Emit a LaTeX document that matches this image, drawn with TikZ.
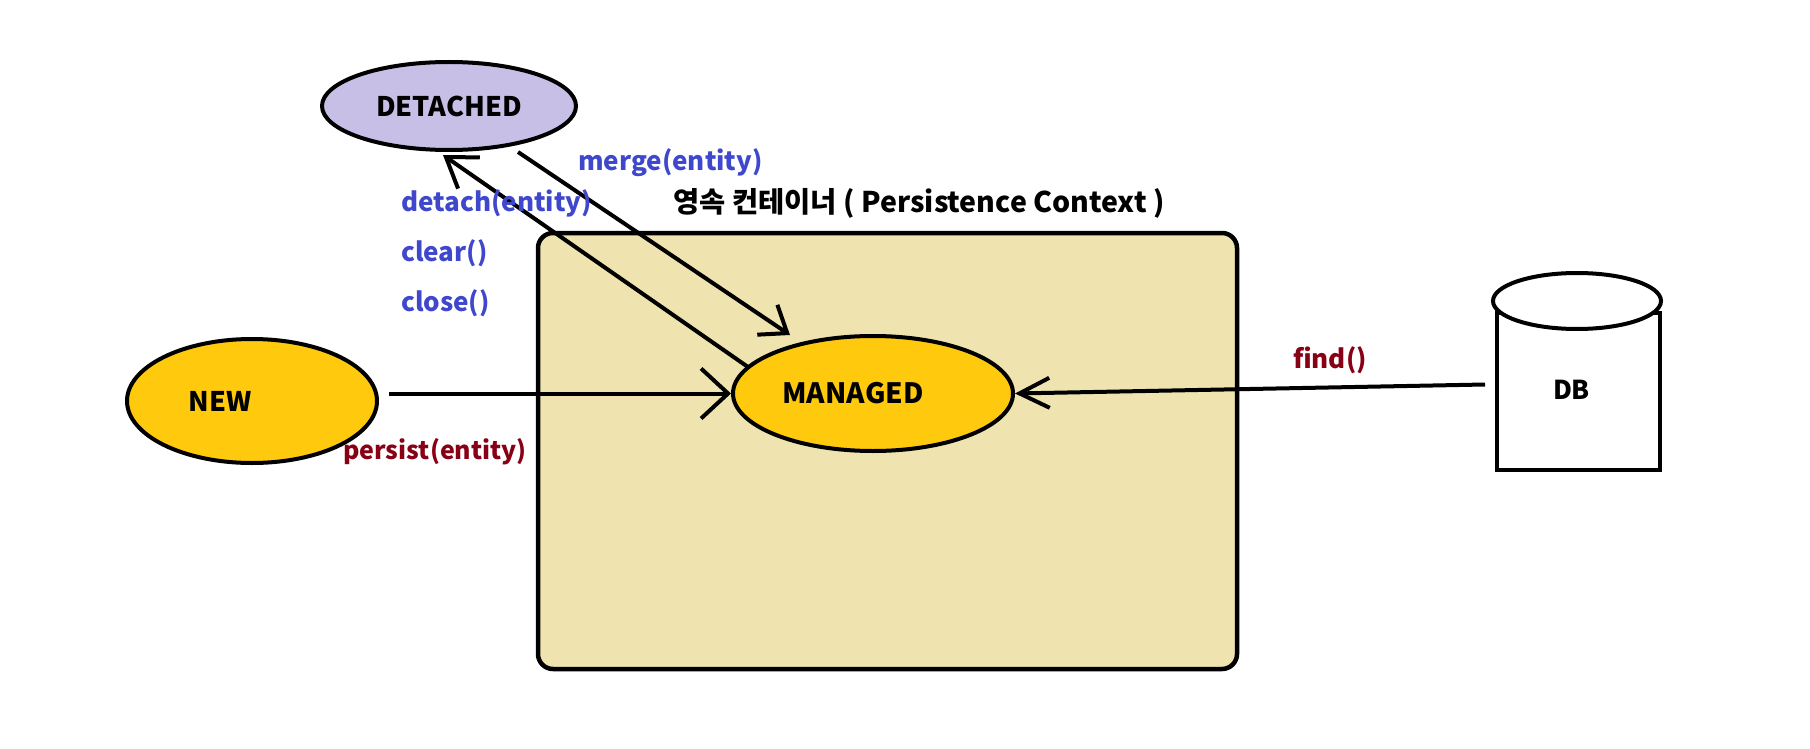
\documentclass[tikz,border=0pt]{standalone}
\usepackage{fontspec}
\setmainfont{Noto Sans CJK KR}
\usetikzlibrary{arrows.meta,calc,shapes.geometric}
\definecolor{khaki}{RGB}{239,228,176}
\definecolor{gold}{RGB}{255,201,14}
\definecolor{lav}{RGB}{200,191,231}
\definecolor{indigo}{RGB}{63,72,204}
\definecolor{dred}{RGB}{136,0,21}
\tikzset{
  state/.style={ellipse,draw=black,line width=4pt,inner sep=0pt,font=\fontsize{27}{30}\selectfont\bfseries},
  arr/.style={line width=4pt,-{Straight Barb[length=27pt,width=50pt,line width=4pt]}},
  bluelbl/.style={text=indigo,font=\fontsize{26}{30}\selectfont\bfseries,anchor=west,inner sep=0pt},
  redlbl/.style={text=dred,font=\fontsize{26}{30}\selectfont\bfseries,inner sep=0pt},
}
\begin{document}
\begin{tikzpicture}[x=1pt,y=-1pt]
\useasboundingbox[fill=white] (0,0) rectangle (1810,749);
% persistence context box
\node[draw=black,fill=khaki,line width=4.5pt,rounded corners=15pt,minimum width=699pt,minimum height=436pt,inner sep=0pt] (ctx) at (887.5,451) {};
\node[anchor=west,inner sep=0pt,font=\fontsize{28.5}{30}\selectfont\bfseries] (title) at (673,203) {영속 컨테이너 ( Persistence Context )};
% states
\node[state,fill=lav,minimum width=254pt,minimum height=88pt] (detached) at (449,106) {DETACHED};
\node[state,fill=gold,minimum width=250pt,minimum height=124pt] (new) at (252,401) {\hspace*{-64pt}NEW};
\node[state,fill=gold,minimum width=280pt,minimum height=115pt,font=\fontsize{28}{30}\selectfont\bfseries] (managed) at (873,393.5) {\hspace*{-40pt}MANAGED};
% DB cylinder
\node[draw=black,line width=4pt,fill=white,minimum width=163pt,minimum height=157pt,inner sep=0pt,font=\fontsize{26}{30}\selectfont\bfseries] (db) at (1578.5,391.5) {\raisebox{4pt}{\hspace*{-14pt}DB}};
\node[ellipse,draw=black,fill=white,line width=4pt,minimum width=168pt,minimum height=56pt,inner sep=0pt] (dbtop) at (1577,301) {};
% connectors
\draw[arr] ([xshift=10pt]new.east |- managed.west) -- (managed.west);
\draw[arr,-{Straight Barb[length=30pt,width=30pt,line width=4pt]}] ([xshift=-10pt,yshift=7pt]db.west) -- (managed.east);
\draw[arr,-{Straight Barb[length=28pt,width=38pt,line width=4pt]}] ($(managed.center)+(-125,-26.5)$) -- ($(detached.center)+(-6,49)$);
\draw[arr,-{Straight Barb[length=24pt,width=36pt,line width=4pt]}] ($(detached.center)+(69,46)$) -- ($(managed.center)+(-83,-58.5)$);
% labels
\node[bluelbl] (lmerge) at (578,163) {merge(entity)};
\node[bluelbl] (ldetach) at (401,203) {detach(entity)};
\node[bluelbl] (lclear) at (401,253) {clear()};
\node[bluelbl] (lclose) at (401,303) {close()};
\node[redlbl,font=\fontsize{25}{30}\selectfont\bfseries] (lpersist) at (435,452) {persist(entity)};
\node[redlbl] (lfind) at (1330,360) {find()};
\end{tikzpicture}
\end{document}
